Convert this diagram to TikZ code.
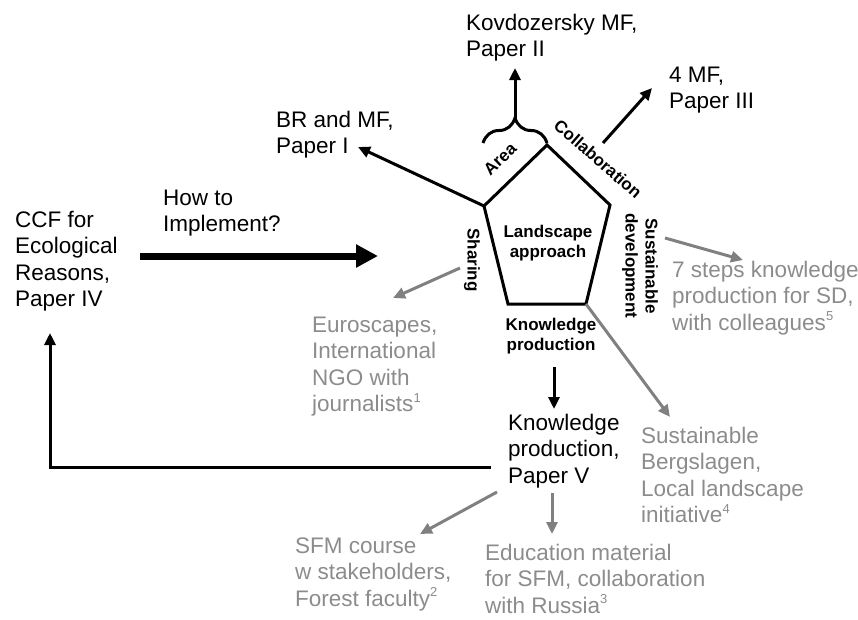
\documentclass[tikz,border=0pt]{standalone}
\usepackage{fontspec}
\setmainfont{Liberation Sans}
\usetikzlibrary{arrows.meta,decorations.pathreplacing}
\definecolor{softgray}{RGB}{140,140,140}
\definecolor{linegray}{RGB}{128,128,128}
% small raised note number
\newcommand\notenum[1]{\raisebox{0.42em}{\fontsize{13}{13}\selectfont #1}}
\begin{document}
\begin{tikzpicture}[x=1pt,y=-1pt,
  txt/.style={anchor=base west, align=left, inner sep=0pt, font=\fontsize{22.5}{26.5}\selectfont},
  graytxt/.style={txt, text=softgray},
  tag/.style={inner sep=0pt, align=center, font=\fontsize{17}{20}\selectfont\bfseries},
  link/.style={line width=3pt, -{Triangle[length=12pt,width=11pt]}},
  graylink/.style={link, draw=linegray},
  rim/.style={line width=3pt, line join=miter},
  bigarrow/.style={line width=7pt, -{Triangle[length=22pt,width=22pt]}}
]
\useasboundingbox (0,0) rectangle (858,619);

% pentagon corners
\coordinate (pT)  at (547,145);
\coordinate (pL)  at (484,206);
\coordinate (pR)  at (610,205);
\coordinate (pBL) at (508,304);
\coordinate (pBR) at (586,304);
\draw[rim] (pT) -- (pR) -- (pBR) -- (pBL) -- (pL) -- cycle;

% labels inside and along the pentagon
\node[tag] (land) at (548,243) {Landscape\\approach};
\node[tag, rotate=44] (area) at (500,159) {Area};
\node[tag, rotate=-41] (collab) at (598,159) {Collaboration};
\node[tag, rotate=-90] (sharing) at (472,260) {Sharing};
\node[tag, rotate=-90] (sdev) at (640,266) {Sustainable\\development};
\node[tag] (kprod) at (551,336) {Knowledge\\production};

% outer texts (anchored at the baseline of their last line)
\node[txt] (kov) at (466,56.5) {Kovdozersky MF,\\Paper II};
\node[txt] (fourmf) at (669,108.5) {4 MF,\\Paper III};
\node[txt] (brmf) at (276,153.5) {BR and MF,\\Paper I};
\node[txt] (ccf) at (15,306.5) {CCF for\\Ecological\\Reasons,\\Paper IV};
\node[txt] (howto) at (163,231.5) {How to\\Implement?};
\node[graytxt] (steps) at (672,330) {7 steps knowledge\\production for SD,\\with colleagues\notenum{5}};
\node[graytxt] (euro) at (312,411.5) {Euroscapes,\\International\\NGO with\\journalists\notenum{1}};
\node[txt] (kp) at (508,483) {Knowledge\\production,\\Paper V};
\node[graytxt] (sberg) at (641,522.5) {Sustainable\\Bergslagen,\\Local landscape\\initiative\notenum{4}};
\node[graytxt] (sfm) at (295,606) {SFM course\\w stakeholders,\\Forest faculty\notenum{2}};
\node[graytxt] (edu) at (485,613) {Education material\\for SFM, collaboration\\with Russia\notenum{3}};

% connector end points
\coordinate (bigStart) at (140,256);
\coordinate (bigTip)   at (378,256);
\coordinate (brTip)    at (358,147);
\coordinate (braceL)   at (483,143);
\coordinate (braceR)   at (547,143);
\coordinate (braceTip) at (515,119);
\coordinate (kovTip)   at (515,68);
\coordinate (colStart) at (603,143);
\coordinate (colTip)   at (652,88);
\coordinate (shStart)  at (460,268);
\coordinate (shTip)    at (393,298);
\coordinate (sdStart)  at (665,238);
\coordinate (sdTip)    at (743,260);
\coordinate (sbTip)    at (670,417);
\coordinate (kpStart)  at (554,367);
\coordinate (kpTip)    at (554,409);
\coordinate (sfmStart) at (497,492);
\coordinate (sfmTip)   at (420,534);
\coordinate (eduStart) at (552,493);
\coordinate (eduTip)   at (552,534);
\coordinate (fbStart)  at (491,467);
\coordinate (fbCorner) at (50,467);
\coordinate (fbTip)    at (50,333);

% brace over the "Area" side
\draw[line width=3pt, decorate, decoration={brace, amplitude=25pt}] (braceL) -- (braceR);

% connectors
\draw[bigarrow] (bigStart) -- (bigTip);
\draw[link] (pL) -- (brTip);
\draw[link] (braceTip) -- (kovTip);
\draw[link] (colStart) -- (colTip);
\draw[graylink] (shStart) -- (shTip);
\draw[graylink] (sdStart) -- (sdTip);
\draw[graylink] (pBR) -- (sbTip);
\draw[link] (kpStart) -- (kpTip);
\draw[graylink] (sfmStart) -- (sfmTip);
\draw[graylink] (eduStart) -- (eduTip);
\draw[link, line join=miter] (fbStart) -- (fbCorner) -- (fbTip);
\end{tikzpicture}
\end{document}
